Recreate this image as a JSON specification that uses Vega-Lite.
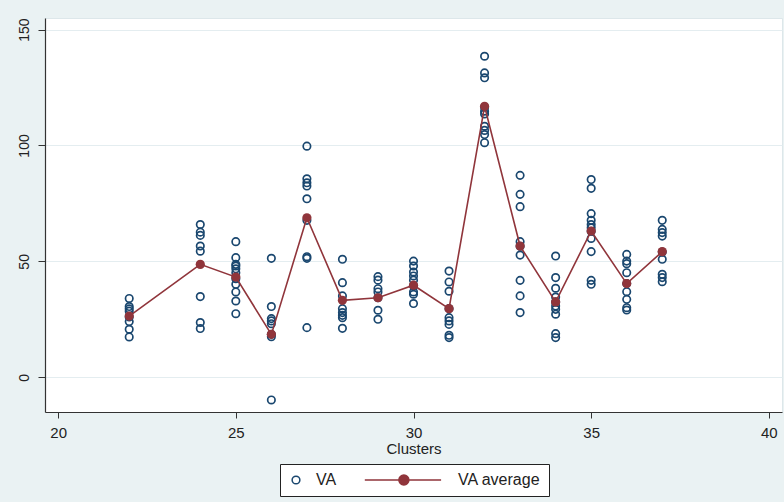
{
  "$schema": "https://vega.github.io/schema/vega-lite/v6.json",
  "width": 737,
  "height": 394,
  "autosize": {"type": "none"},
  "padding": {"left": 45, "top": 18, "right": 2, "bottom": 90},
  "background": "#eaf2f3",
  "config": {
    "view": {"fill": "white", "stroke": "#dde7ea"},
    "font": "Liberation Sans"
  },
  "datasets": {
    "va": [
      {"cluster": 22, "va": 34.0, "series": "VA"}, {"cluster": 22, "va": 30.5, "series": "VA"}, {"cluster": 22, "va": 29.5, "series": "VA"}, {"cluster": 22, "va": 28.5, "series": "VA"}, {"cluster": 22, "va": 26.0, "series": "VA"}, {"cluster": 22, "va": 24.0, "series": "VA"}, {"cluster": 22, "va": 20.7, "series": "VA"}, {"cluster": 22, "va": 17.4, "series": "VA"},
      {"cluster": 24, "va": 65.9, "series": "VA"}, {"cluster": 24, "va": 62.6, "series": "VA"}, {"cluster": 24, "va": 61.2, "series": "VA"}, {"cluster": 24, "va": 56.6, "series": "VA"}, {"cluster": 24, "va": 54.4, "series": "VA"}, {"cluster": 24, "va": 34.8, "series": "VA"}, {"cluster": 24, "va": 23.6, "series": "VA"}, {"cluster": 24, "va": 21.0, "series": "VA"},
      {"cluster": 25, "va": 58.5, "series": "VA"}, {"cluster": 25, "va": 51.6, "series": "VA"}, {"cluster": 25, "va": 48.7, "series": "VA"}, {"cluster": 25, "va": 48.0, "series": "VA"}, {"cluster": 25, "va": 46.8, "series": "VA"}, {"cluster": 25, "va": 45.1, "series": "VA"}, {"cluster": 25, "va": 42.5, "series": "VA"}, {"cluster": 25, "va": 40.1, "series": "VA"}, {"cluster": 25, "va": 36.8, "series": "VA"}, {"cluster": 25, "va": 32.9, "series": "VA"}, {"cluster": 25, "va": 27.4, "series": "VA"},
      {"cluster": 26, "va": 51.3, "series": "VA"}, {"cluster": 26, "va": 30.5, "series": "VA"}, {"cluster": 26, "va": 25.3, "series": "VA"}, {"cluster": 26, "va": 24.3, "series": "VA"}, {"cluster": 26, "va": 23.1, "series": "VA"}, {"cluster": 26, "va": 18.5, "series": "VA"}, {"cluster": 26, "va": 17.5, "series": "VA"}, {"cluster": 26, "va": -9.8, "series": "VA"},
      {"cluster": 27, "va": 99.7, "series": "VA"}, {"cluster": 27, "va": 85.6, "series": "VA"}, {"cluster": 27, "va": 83.9, "series": "VA"}, {"cluster": 27, "va": 82.5, "series": "VA"}, {"cluster": 27, "va": 77.0, "series": "VA"}, {"cluster": 27, "va": 67.7, "series": "VA"}, {"cluster": 27, "va": 52.0, "series": "VA"}, {"cluster": 27, "va": 51.3, "series": "VA"}, {"cluster": 27, "va": 21.4, "series": "VA"},
      {"cluster": 28, "va": 50.9, "series": "VA"}, {"cluster": 28, "va": 40.8, "series": "VA"}, {"cluster": 28, "va": 35.1, "series": "VA"}, {"cluster": 28, "va": 29.6, "series": "VA"}, {"cluster": 28, "va": 27.9, "series": "VA"}, {"cluster": 28, "va": 26.7, "series": "VA"}, {"cluster": 28, "va": 25.7, "series": "VA"}, {"cluster": 28, "va": 21.1, "series": "VA"},
      {"cluster": 29, "va": 43.4, "series": "VA"}, {"cluster": 29, "va": 41.9, "series": "VA"}, {"cluster": 29, "va": 38.2, "series": "VA"}, {"cluster": 29, "va": 36.8, "series": "VA"}, {"cluster": 29, "va": 34.3, "series": "VA"}, {"cluster": 29, "va": 28.9, "series": "VA"}, {"cluster": 29, "va": 25.0, "series": "VA"},
      {"cluster": 30, "va": 50.1, "series": "VA"}, {"cluster": 30, "va": 48.0, "series": "VA"}, {"cluster": 30, "va": 45.4, "series": "VA"}, {"cluster": 30, "va": 43.7, "series": "VA"}, {"cluster": 30, "va": 41.9, "series": "VA"}, {"cluster": 30, "va": 39.5, "series": "VA"}, {"cluster": 30, "va": 36.8, "series": "VA"}, {"cluster": 30, "va": 35.8, "series": "VA"}, {"cluster": 30, "va": 31.8, "series": "VA"},
      {"cluster": 31, "va": 45.8, "series": "VA"}, {"cluster": 31, "va": 41.1, "series": "VA"}, {"cluster": 31, "va": 37.1, "series": "VA"}, {"cluster": 31, "va": 29.6, "series": "VA"}, {"cluster": 31, "va": 25.7, "series": "VA"}, {"cluster": 31, "va": 24.3, "series": "VA"}, {"cluster": 31, "va": 22.8, "series": "VA"}, {"cluster": 31, "va": 18.1, "series": "VA"}, {"cluster": 31, "va": 17.1, "series": "VA"},
      {"cluster": 32, "va": 138.5, "series": "VA"}, {"cluster": 32, "va": 131.3, "series": "VA"}, {"cluster": 32, "va": 129.2, "series": "VA"}, {"cluster": 32, "va": 116.5, "series": "VA"}, {"cluster": 32, "va": 114.8, "series": "VA"}, {"cluster": 32, "va": 113.6, "series": "VA"}, {"cluster": 32, "va": 108.3, "series": "VA"}, {"cluster": 32, "va": 106.5, "series": "VA"}, {"cluster": 32, "va": 104.7, "series": "VA"}, {"cluster": 32, "va": 101.2, "series": "VA"},
      {"cluster": 33, "va": 87.1, "series": "VA"}, {"cluster": 33, "va": 78.9, "series": "VA"}, {"cluster": 33, "va": 73.6, "series": "VA"}, {"cluster": 33, "va": 58.5, "series": "VA"}, {"cluster": 33, "va": 56.5, "series": "VA"}, {"cluster": 33, "va": 52.7, "series": "VA"}, {"cluster": 33, "va": 41.8, "series": "VA"}, {"cluster": 33, "va": 35.1, "series": "VA"}, {"cluster": 33, "va": 27.9, "series": "VA"},
      {"cluster": 34, "va": 52.3, "series": "VA"}, {"cluster": 34, "va": 43.0, "series": "VA"}, {"cluster": 34, "va": 38.4, "series": "VA"}, {"cluster": 34, "va": 34.6, "series": "VA"}, {"cluster": 34, "va": 32.5, "series": "VA"}, {"cluster": 34, "va": 30.7, "series": "VA"}, {"cluster": 34, "va": 29.3, "series": "VA"}, {"cluster": 34, "va": 27.2, "series": "VA"}, {"cluster": 34, "va": 18.8, "series": "VA"}, {"cluster": 34, "va": 17.1, "series": "VA"},
      {"cluster": 35, "va": 85.3, "series": "VA"}, {"cluster": 35, "va": 81.5, "series": "VA"}, {"cluster": 35, "va": 70.6, "series": "VA"}, {"cluster": 35, "va": 67.7, "series": "VA"}, {"cluster": 35, "va": 65.9, "series": "VA"}, {"cluster": 35, "va": 64.5, "series": "VA"}, {"cluster": 35, "va": 63.0, "series": "VA"}, {"cluster": 35, "va": 59.9, "series": "VA"}, {"cluster": 35, "va": 54.2, "series": "VA"}, {"cluster": 35, "va": 41.8, "series": "VA"}, {"cluster": 35, "va": 40.1, "series": "VA"},
      {"cluster": 36, "va": 53.0, "series": "VA"}, {"cluster": 36, "va": 50.1, "series": "VA"}, {"cluster": 36, "va": 49.0, "series": "VA"}, {"cluster": 36, "va": 45.1, "series": "VA"}, {"cluster": 36, "va": 40.4, "series": "VA"}, {"cluster": 36, "va": 36.9, "series": "VA"}, {"cluster": 36, "va": 33.6, "series": "VA"}, {"cluster": 36, "va": 30.0, "series": "VA"}, {"cluster": 36, "va": 29.0, "series": "VA"},
      {"cluster": 37, "va": 67.7, "series": "VA"}, {"cluster": 37, "va": 63.8, "series": "VA"}, {"cluster": 37, "va": 62.4, "series": "VA"}, {"cluster": 37, "va": 60.9, "series": "VA"}, {"cluster": 37, "va": 54.0, "series": "VA"}, {"cluster": 37, "va": 50.9, "series": "VA"}, {"cluster": 37, "va": 44.4, "series": "VA"}, {"cluster": 37, "va": 43.0, "series": "VA"}, {"cluster": 37, "va": 41.2, "series": "VA"}
    ],
    "avg": [
      {"cluster": 22, "va": 26.4, "series": "VA average"},
      {"cluster": 24, "va": 48.7, "series": "VA average"},
      {"cluster": 25, "va": 43.2, "series": "VA average"},
      {"cluster": 26, "va": 18.5, "series": "VA average"},
      {"cluster": 27, "va": 68.8, "series": "VA average"},
      {"cluster": 28, "va": 33.2, "series": "VA average"},
      {"cluster": 29, "va": 34.3, "series": "VA average"},
      {"cluster": 30, "va": 39.7, "series": "VA average"},
      {"cluster": 31, "va": 29.6, "series": "VA average"},
      {"cluster": 32, "va": 116.9, "series": "VA average"},
      {"cluster": 33, "va": 56.6, "series": "VA average"},
      {"cluster": 34, "va": 32.5, "series": "VA average"},
      {"cluster": 35, "va": 63.1, "series": "VA average"},
      {"cluster": 36, "va": 40.4, "series": "VA average"},
      {"cluster": 37, "va": 54.2, "series": "VA average"}
    ]
  },
  "encoding": {
    "x": {
      "field": "cluster", "type": "quantitative",
      "scale": {"domain": [19.63, 40.37], "nice": false, "zero": false},
      "axis": {
        "values": [20, 25, 30, 35, 40], "title": "Clusters", "grid": false,
        "domainColor": "#333333", "tickColor": "#333333", "tickSize": 6, "domainWidth": 1.2,
        "labelFontSize": 15, "labelColor": "#222222", "labelPadding": 7,
        "titleFontSize": 15, "titleFontWeight": "normal", "titleColor": "#222222", "titlePadding": 1
      }
    },
    "y": {
      "field": "va", "type": "quantitative",
      "scale": {"domain": [-15, 155], "nice": false, "zero": false},
      "axis": {
        "values": [0, 50, 100, 150], "title": null, "grid": true, "gridColor": "#e4edf0", "gridWidth": 1.2,
        "domainColor": "#333333", "tickColor": "#333333", "tickSize": 7, "domainWidth": 1.2,
        "labelAngle": 270, "labelAlign": "center", "labelBaseline": "bottom",
        "labelFontSize": 14, "labelColor": "#222222", "labelPadding": 7
      }
    }
  },
  "layer": [
    {
      "data": {"name": "va"},
      "mark": {"type": "point", "filled": false, "size": 55, "strokeWidth": 1.7, "opacity": 1},
      "encoding": {
        "color": {
          "field": "series", "type": "nominal",
          "scale": {"domain": ["VA", "VA average"], "range": ["#1a476f", "#90353b"]},
          "legend": {
            "title": null, "orient": "none", "legendX": 235, "legendY": 446,
            "direction": "horizontal", "fillColor": "white", "strokeColor": "#222222",
            "padding": 8, "cornerRadius": 0, "labelFontSize": 16, "labelColor": "#222222",
            "labelOffset": 12, "columnPadding": 24, "symbolSize": 60, "symbolStrokeWidth": 1.5, "symbolOpacity": 1
          }
        },
        "fill": {
          "field": "series", "type": "nominal",
          "scale": {"domain": ["VA", "VA average"], "range": ["transparent", "#90353b"]},
          "legend": {
            "title": null, "orient": "none", "legendX": 235, "legendY": 446,
            "direction": "horizontal", "fillColor": "white", "strokeColor": "#222222",
            "padding": 8, "cornerRadius": 0, "labelFontSize": 16, "labelColor": "#222222",
            "labelOffset": 12, "columnPadding": 24, "symbolSize": 60, "symbolStrokeWidth": 1.5, "symbolOpacity": 1
          }
        },
        "shape": {
          "field": "series", "type": "nominal",
          "scale": {"domain": ["VA", "VA average"], "range": ["circle", "M-18.9,0L0.8,0M-10.1,0A1.29,1.29,0,1,1,-7.52,0A1.29,1.29,0,1,1,-10.1,0Z"]},
          "legend": {
            "title": null, "orient": "none", "legendX": 235, "legendY": 446,
            "direction": "horizontal", "fillColor": "white", "strokeColor": "#222222",
            "padding": 8, "cornerRadius": 0, "labelFontSize": 16, "labelColor": "#222222",
            "labelOffset": 12, "columnPadding": 24, "symbolSize": 60, "symbolStrokeWidth": 1.5, "symbolOpacity": 1
          }
        }
      }
    },
    {
      "data": {"name": "avg"},
      "mark": {"type": "line", "color": "#90353b", "strokeWidth": 1.6}
    },
    {
      "data": {"name": "avg"},
      "mark": {"type": "point", "shape": "circle", "filled": true, "size": 85, "opacity": 1, "color": "#90353b"}
    }
  ]
}
